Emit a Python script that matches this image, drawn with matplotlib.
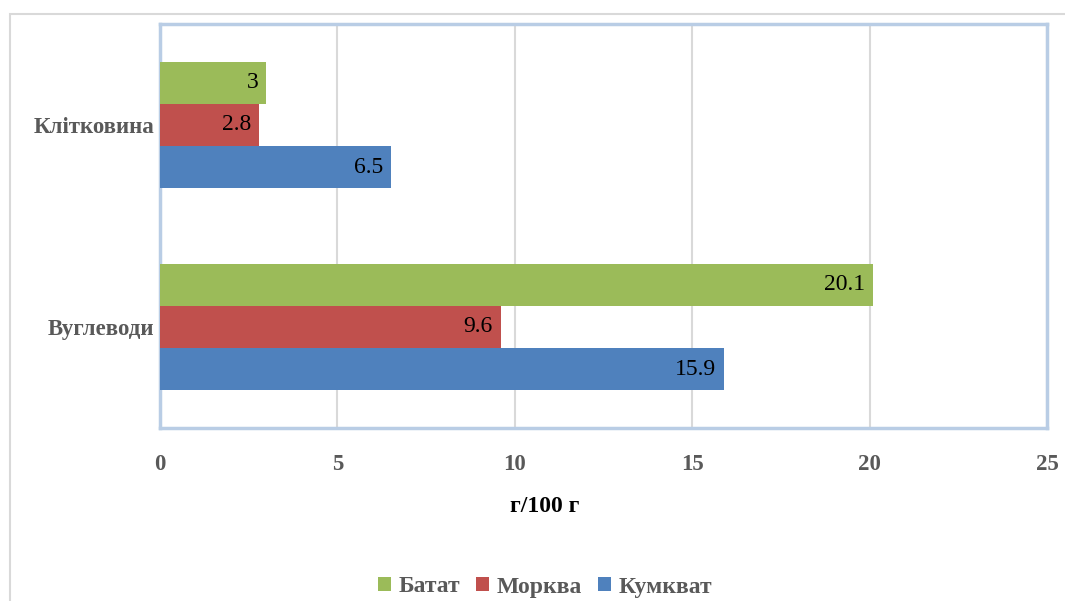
import numpy as np
import matplotlib

matplotlib.use("Agg")
import matplotlib.pyplot as plt
from matplotlib.patches import Rectangle

plt.rcParams["font.family"] = ["Liberation Serif", "DejaVu Serif"]

categories = ["Вуглеводи", "Клітковина"]
series = ["Батат", "Морква", "Кумкват"]
batat = [20.1, 3]
morkva = [9.6, 2.8]
kumkvat = [15.9, 6.5]
colors = ["#9BBB59", "#C0504D", "#4F81BD"]

fig = plt.figure(figsize=(10.65, 6.01), dpi=100)
fig.patches.append(Rectangle((10 / 1065, -0.1), 1.2, 1.1 - 14 / 601,
                             transform=fig.transFigure, fill=False,
                             edgecolor="#D9D9D9", linewidth=1.5))
ax = fig.add_axes([160 / 1065, 1 - 428 / 601, 887 / 1065, 404 / 601])

y = np.arange(len(categories))
h = 0.208
offsets = [h, 0, -h]
for vals, name, col, off in zip([batat, morkva, kumkvat], series, colors, offsets):
    bars = ax.barh(y + off, vals, height=h, color=col, label=name, zorder=3)
    for b, v in zip(bars, vals):
        ax.text(b.get_width() - 0.22, b.get_y() + b.get_height() / 2, f"{v:g}",
                ha="right", va="center", fontsize=17, color="black", zorder=4)

ax.set_xlim(0, 25)
ax.set_ylim(-0.5, 1.5)
ax.set_xticks(range(0, 26, 5))
ax.set_yticks(y)
ax.set_yticklabels(categories)
ax.grid(axis="x", color="#D9D9D9", linewidth=1.5, zorder=0)
for s in ax.spines.values():
    s.set_color("#B9CDE5")
    s.set_linewidth(2.5)
ax.tick_params(length=0, labelsize=16.5, labelcolor="#595959")
ax.tick_params(axis="x", pad=19)
ax.tick_params(axis="y", pad=4)
for lbl in ax.get_xticklabels() + ax.get_yticklabels():
    lbl.set_fontweight("bold")
ax.set_xlabel("г/100 г", fontsize=17, fontweight="bold", va="center")
ax.xaxis.set_label_coords((545 - 160) / 887, (428 - 506) / 404)

handles, labels = ax.get_legend_handles_labels()
leg = fig.legend(handles, labels, loc="center", bbox_to_anchor=(545 / 1065, 1 - 587 / 601),
                 ncol=3, frameon=False, fontsize=17, handlelength=0.55, handleheight=0.55,
                 handletextpad=0.3, columnspacing=0.7)
for t in leg.get_texts():
    t.set_fontweight("bold")
    t.set_color("#595959")

fig.savefig("out.png", dpi=100)
